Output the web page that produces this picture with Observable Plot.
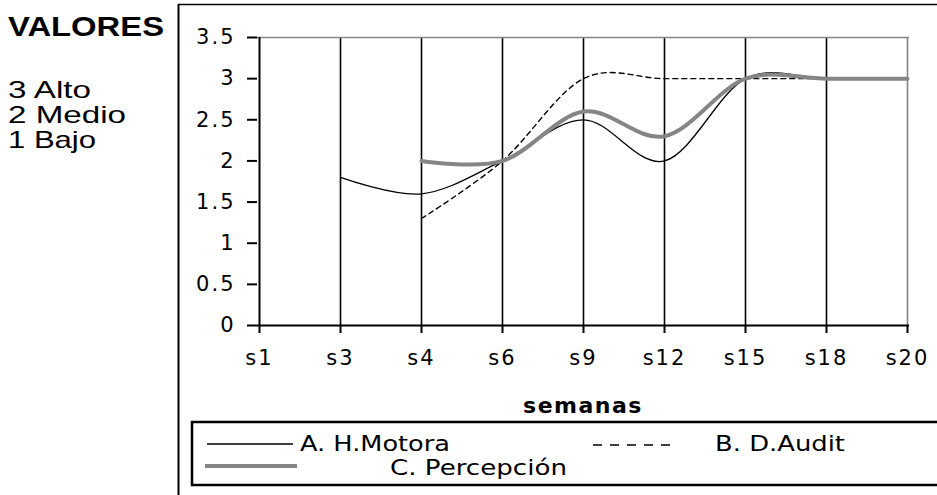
<!DOCTYPE html>
<html>
<head>
<meta charset="utf-8">
<script src="https://cdn.jsdelivr.net/npm/d3@7"></script>
<script src="https://cdn.jsdelivr.net/npm/@observablehq/plot@0.6"></script>
<style>
  html, body { margin: 0; padding: 0; background: #fff; }
  #wrap { position: relative; width: 937px; height: 495px; overflow: hidden; background: #fff; }
  #wrap svg { position: absolute; left: 0; top: 0; }
</style>
</head>
<body>
<div id="wrap"></div>
<script>
// ---- data ----
const weeks = ["s1", "s3", "s4", "s6", "s9", "s12", "s15", "s18", "s20"];
const motora = [null, 1.8, 1.6, 2.0, 2.5, 2.0, 3.0, 3.0, 3.0];      // A. H.Motora
const audit = [null, null, 1.3, 2.0, 3.0, 3.0, 3.0, 3.0, 3.0];      // B. D.Audit
const percepcion = [null, null, 2.0, 2.0, 2.6, 2.3, 3.0, 3.0, 3.0]; // C. Percepción
const yTicks = [0, 0.5, 1, 1.5, 2, 2.5, 3, 3.5];
const seriesNames = ["A. H.Motora", "B. D.Audit", "C. Percepción"];
const valores = ["3 Alto", "2 Medio", "1 Bajo"];
const xTitle = "semanas";

const GRAY = "#858585";
const innerWeeks = weeks.slice(1, -1);

const toRows = (vals) => weeks.map((w, i) => ({w, v: vals[i]}));

const chart = Plot.plot({
  width: 937,
  height: 400,
  marginLeft: 257,
  marginRight: 28,
  marginTop: 37,
  marginBottom: 75,
  style: {fontFamily: "'DejaVu Sans', sans-serif", fontSize: "21px", letterSpacing: "2px", color: "#000", background: "transparent", overflow: "visible"},
  x: {type: "point", domain: weeks, padding: 0},
  y: {domain: [0, 3.5]},
  marks: [
    Plot.ruleX(innerWeeks, {stroke: "#000", strokeWidth: 1.6}),
    Plot.ruleX([weeks[weeks.length - 1]], {stroke: GRAY, strokeWidth: 1.6}),
    Plot.ruleY([3.5], {stroke: GRAY, strokeWidth: 1.6}),
    Plot.ruleX([weeks[0]], {stroke: "#000", strokeWidth: 2}),
    Plot.ruleY([0], {stroke: "#000", strokeWidth: 2}),
    Plot.axisY({ticks: yTicks, tickFormat: (d) => String(d), tickSize: 10, tickPadding: 12, strokeWidth: 2, stroke: "#000", label: null}),
    Plot.axisX({tickSize: 8, tickPadding: 17, strokeWidth: 2, stroke: "#000", label: null}),
    Plot.line(toRows(motora), {x: "w", y: "v", curve: "cardinal", tension: 0, stroke: "#000", strokeWidth: 1.3}),
    Plot.line(toRows(audit), {x: "w", y: "v", curve: "cardinal", tension: 0, stroke: "#000", strokeWidth: 1.4, strokeDasharray: "5,4"}),
    Plot.line(toRows(percepcion), {x: "w", y: "v", curve: "cardinal", tension: 0, stroke: GRAY, strokeWidth: 4})
  ]
});
document.getElementById("wrap").appendChild(chart);

// ---- overlay: frame, left notes, axis title, legend ----
const svg = d3.select("#wrap").append("svg")
  .attr("width", 937).attr("height", 495)
  .style("font-family", "'DejaVu Sans', sans-serif");

// outer chart frame (left and top edges)
svg.append("line").attr("x1", 178.5).attr("x2", 178.5).attr("y1", 4).attr("y2", 495).attr("stroke", "#000").attr("stroke-width", 2);
svg.append("line").attr("x1", 178).attr("x2", 937).attr("y1", 4.5).attr("y2", 4.5).attr("stroke", "#000").attr("stroke-width", 1.5);

// left notes
svg.append("text").attr("x", 8).attr("y", 36)
  .attr("font-family", "'Liberation Sans', Arial, sans-serif").attr("font-weight", "bold").attr("font-size", 27)
  .attr("textLength", 156).attr("lengthAdjust", "spacingAndGlyphs")
  .text("VALORES");
const valLens = [83, 118, 88];
valores.forEach((t, i) => {
  svg.append("text").attr("x", 8).attr("y", 98 + i * 25)
    .attr("font-family", "'Liberation Sans', Arial, sans-serif").attr("font-size", 24)
    .attr("textLength", valLens[i]).attr("lengthAdjust", "spacingAndGlyphs")
    .text(t);
});

// x axis title
svg.append("text").attr("x", 583).attr("y", 413).attr("text-anchor", "middle")
  .attr("font-weight", "bold").attr("font-size", 22).attr("letter-spacing", "1.5px")
  .text(xTitle);

// legend box
svg.append("rect").attr("x", 192).attr("y", 422).attr("width", 800).attr("height", 63)
  .attr("fill", "none").attr("stroke", "#000").attr("stroke-width", 2.5);
svg.append("line").attr("x1", 207).attr("x2", 293).attr("y1", 444).attr("y2", 444).attr("stroke", "#000").attr("stroke-width", 1.7);
svg.append("line").attr("x1", 593).attr("x2", 670).attr("y1", 445).attr("y2", 445).attr("stroke", "#000").attr("stroke-width", 1.7).attr("stroke-dasharray", "9,8");
svg.append("line").attr("x1", 205).attr("x2", 297).attr("y1", 466).attr("y2", 466).attr("stroke", GRAY).attr("stroke-width", 4);
const legPos = [[300, 451, 150], [715, 451, 130], [390, 475, 177]];
seriesNames.forEach((t, i) => {
  svg.append("text").attr("x", legPos[i][0]).attr("y", legPos[i][1]).attr("font-size", 22)
    .attr("textLength", legPos[i][2]).attr("lengthAdjust", "spacingAndGlyphs")
    .text(t);
});
</script>
</body>
</html>
